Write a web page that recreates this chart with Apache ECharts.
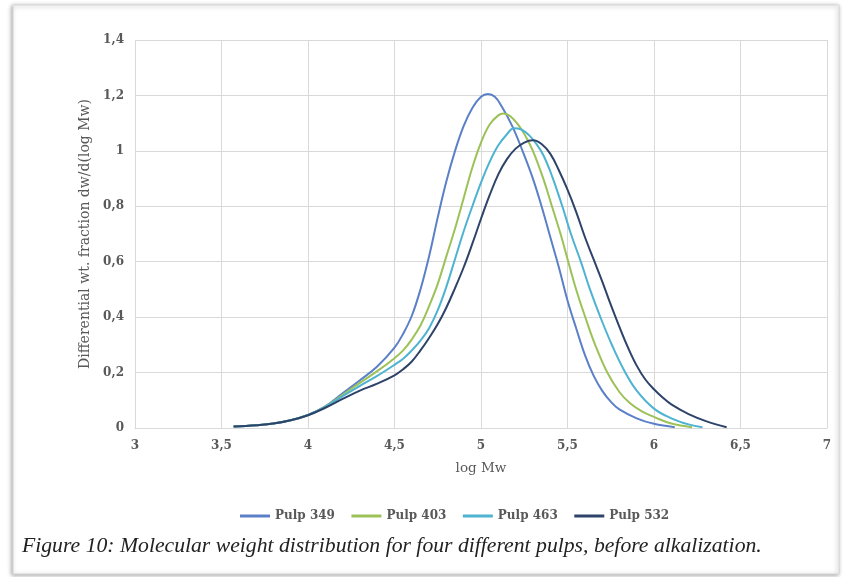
<!DOCTYPE html>
<html>
<head>
<meta charset="utf-8">
<script src="https://cdn.jsdelivr.net/npm/echarts@6/dist/echarts.min.js"></script>
<style>
html,body{margin:0;padding:0;background:#ffffff;}
#chart{width:843px;height:577px;}
</style>
</head>
<body>
<div id="chart"></div>
<script>
const seriesNames = ['Pulp 349', 'Pulp 403', 'Pulp 463', 'Pulp 532'];
const xTicks = ['3', '3,5', '4', '4,5', '5', '5,5', '6', '6,5', '7'];
const yTicks = ['0', '0,2', '0,4', '0,6', '0,8', '1', '1,2', '1,4'];

const pulp349 = [[3.57,0.005],[3.7,0.010],[3.8,0.016],[3.9,0.028],[4.0,0.047],[4.1,0.078],[4.2,0.125],[4.3,0.172],[4.4,0.222],[4.5,0.29],[4.55,0.34],[4.6,0.405],[4.65,0.50],[4.7,0.62],[4.75,0.76],[4.8,0.89],[4.85,1.0],[4.9,1.09],[4.95,1.155],[5.0,1.195],[5.04,1.205],[5.08,1.195],[5.12,1.16],[5.18,1.09],[5.24,1.0],[5.3,0.9],[5.35,0.8],[5.4,0.69],[5.45,0.58],[5.5,0.46],[5.55,0.36],[5.6,0.265],[5.65,0.19],[5.7,0.135],[5.75,0.095],[5.8,0.067],[5.9,0.035],[6.0,0.015],[6.12,0.003]];
const pulp403 = [[3.57,0.005],[3.7,0.010],[3.8,0.016],[3.9,0.028],[4.0,0.047],[4.1,0.077],[4.2,0.12],[4.3,0.163],[4.4,0.205],[4.5,0.252],[4.55,0.28],[4.6,0.32],[4.65,0.37],[4.7,0.44],[4.75,0.52],[4.8,0.62],[4.85,0.72],[4.9,0.83],[4.95,0.94],[5.0,1.03],[5.05,1.095],[5.1,1.128],[5.13,1.135],[5.17,1.125],[5.22,1.09],[5.26,1.05],[5.3,1.0],[5.36,0.9],[5.41,0.8],[5.46,0.7],[5.5,0.61],[5.55,0.5],[5.6,0.405],[5.66,0.3],[5.73,0.2],[5.8,0.13],[5.86,0.09],[5.93,0.06],[6.0,0.04],[6.1,0.016],[6.22,0.003]];
const pulp463 = [[3.57,0.005],[3.7,0.010],[3.8,0.016],[3.9,0.028],[4.0,0.047],[4.1,0.076],[4.2,0.115],[4.3,0.152],[4.4,0.188],[4.5,0.228],[4.55,0.25],[4.6,0.28],[4.65,0.315],[4.7,0.36],[4.75,0.425],[4.8,0.51],[4.85,0.61],[4.9,0.71],[4.95,0.80],[5.0,0.885],[5.05,0.96],[5.1,1.02],[5.15,1.06],[5.19,1.082],[5.23,1.078],[5.28,1.055],[5.32,1.025],[5.36,0.985],[5.41,0.91],[5.47,0.80],[5.52,0.70],[5.58,0.595],[5.63,0.50],[5.69,0.40],[5.76,0.295],[5.83,0.205],[5.9,0.135],[6.0,0.07],[6.1,0.035],[6.2,0.013],[6.28,0.003]];
const pulp532 = [[3.57,0.005],[3.7,0.010],[3.8,0.016],[3.9,0.028],[4.0,0.046],[4.1,0.073],[4.2,0.105],[4.3,0.135],[4.4,0.16],[4.5,0.19],[4.55,0.212],[4.6,0.24],[4.65,0.28],[4.7,0.325],[4.75,0.375],[4.8,0.435],[4.85,0.505],[4.9,0.58],[4.95,0.665],[5.0,0.755],[5.05,0.84],[5.1,0.915],[5.15,0.97],[5.2,1.008],[5.25,1.03],[5.3,1.038],[5.35,1.025],[5.4,0.99],[5.45,0.93],[5.5,0.86],[5.55,0.78],[5.6,0.69],[5.65,0.61],[5.7,0.53],[5.75,0.445],[5.8,0.365],[5.85,0.29],[5.9,0.225],[5.95,0.175],[6.0,0.14],[6.05,0.11],[6.1,0.085],[6.2,0.05],[6.3,0.025],[6.42,0.003]];

const seriesData = [pulp349, pulp403, pulp463, pulp532];
const colors = ['#5B80C8', '#9CC257', '#4DB3D0', '#2D4369'];

const chart = echarts.init(document.getElementById('chart'), null, {renderer: 'canvas'});
const labelFont = {color: '#595959', fontFamily: 'DejaVu Serif', fontSize: 12, fontWeight: 'bold'};

chart.setOption({
  animation: false,
  backgroundColor: '#ffffff',
  graphic: [
    {type: 'rect', shape: {x: 13, y: 5, width: 826, height: 569},
     style: {fill: '#ffffff', stroke: '#d8d8d8', lineWidth: 1, shadowBlur: 4, shadowColor: 'rgba(0,0,0,0.35)', shadowOffsetX: -1, shadowOffsetY: 1}, z: -10, silent: true},
    {type: 'text', left: 22, top: 535,
     style: {text: 'Figure 10: Molecular weight distribution for four different pulps, before alkalization.', fill: '#222222', font: 'italic 21.7px "Liberation Serif"'}}
  ],
  grid: {left: 135, right: 16, top: 40, bottom: 149},
  legend: {
    data: seriesNames,
    left: 235, top: 505,
    itemWidth: 30, itemHeight: 3, itemGap: 16.5,
    icon: 'rect',
    textStyle: {color: '#595959', fontFamily: 'DejaVu Serif', fontSize: 12, fontWeight: 'bold'}
  },
  xAxis: {
    type: 'value', min: 3, max: 7, interval: 0.5,
    name: 'log Mw', nameLocation: 'middle', nameGap: 33,
    nameTextStyle: {color: '#595959', fontFamily: 'DejaVu Serif', fontSize: 13.5},
    axisLine: {show: true, lineStyle: {color: '#d9d9d9'}},
    axisTick: {show: false},
    splitLine: {show: true, lineStyle: {color: '#d9d9d9', width: 1}},
    axisLabel: Object.assign({margin: 12, formatter: v => xTicks[Math.round((v - 3) / 0.5)]}, labelFont)
  },
  yAxis: {
    type: 'value', min: 0, max: 1.4, interval: 0.2,
    name: 'Differential wt. fraction dw/d(log Mw)', nameLocation: 'middle', nameGap: 40,
    nameTextStyle: {color: '#595959', fontFamily: 'DejaVu Serif', fontSize: 14},
    axisLine: {show: false},
    axisTick: {show: false},
    splitLine: {show: true, lineStyle: {color: '#d9d9d9', width: 1}},
    axisLabel: Object.assign({margin: 11, formatter: v => yTicks[Math.round(v / 0.2)]}, labelFont)
  },
  series: seriesNames.map((n, i) => ({
    name: n, type: 'line', data: seriesData[i], smooth: 0.4, symbol: 'none',
    lineStyle: {color: colors[i], width: 2}, itemStyle: {color: colors[i]}
  }))
});
</script>
</body>
</html>
